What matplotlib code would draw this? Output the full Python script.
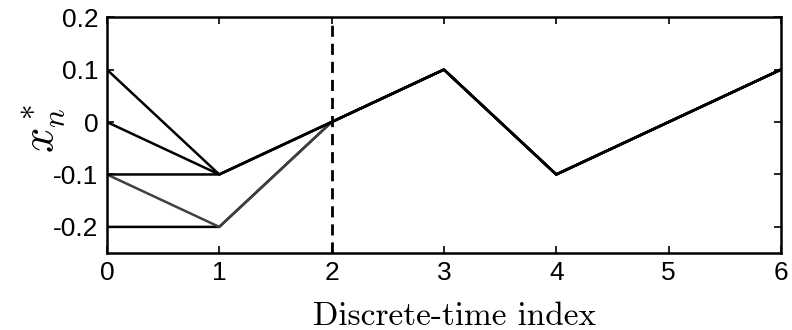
import matplotlib.pyplot as plt

plt.rcParams['font.family'] = ['Liberation Sans', 'DejaVu Sans']
plt.rcParams['mathtext.fontset'] = 'cm'

# discrete-time index
n = [0, 1, 2, 3, 4, 5, 6]

# trajectories from different initial values, all merging at n = 2
traj_low = [-0.2, -0.2, 0.0, 0.1, -0.1, 0.0, 0.1]
traj_gray = [-0.1, -0.2, 0.0, 0.1, -0.1, 0.0, 0.1]
traj_black = [
    [0.1, -0.1, 0.0, 0.1, -0.1, 0.0, 0.1],
    [0.0, -0.1, 0.0, 0.1, -0.1, 0.0, 0.1],
    [-0.1, -0.1, 0.0, 0.1, -0.1, 0.0, 0.1],
]
n_switch = 2

yticks = [-0.2, -0.1, 0, 0.1, 0.2]
ytick_labels = ['-0.2', '-0.1', '0', '0.1', '0.2']

fig = plt.figure(figsize=(7.92, 3.3), dpi=100)
ax = fig.add_axes([0.135, 0.233, 0.851, 0.715])

ax.plot(n, traj_low, color='black', lw=1.8)
ax.plot(n, traj_gray, color='#404040', lw=1.8)
for y in traj_black:
    ax.plot(n, y, color='black', lw=1.8)
ax.axvline(n_switch, color='black', lw=2.0, ls=(0, (4, 2.5)))

ax.set_xlim(0, 6)
ax.set_ylim(-0.25, 0.2)
ax.set_xticks(n)
ax.set_yticks(yticks)
ax.set_yticklabels(ytick_labels)
ax.tick_params(direction='in', length=5, width=1.2, labelsize=19,
               top=True, right=True, pad=6)
for s in ax.spines.values():
    s.set_linewidth(1.8)

ax.set_xlabel('Discrete-time index', fontsize=24, family='cmr10', labelpad=12)
ax.xaxis.label.set_x(0.516)
ax.set_ylabel(r'$x_n^*$', fontsize=32, labelpad=-10)
ax.yaxis.label.set_y(0.53)

fig.savefig('out.png', dpi=100)
